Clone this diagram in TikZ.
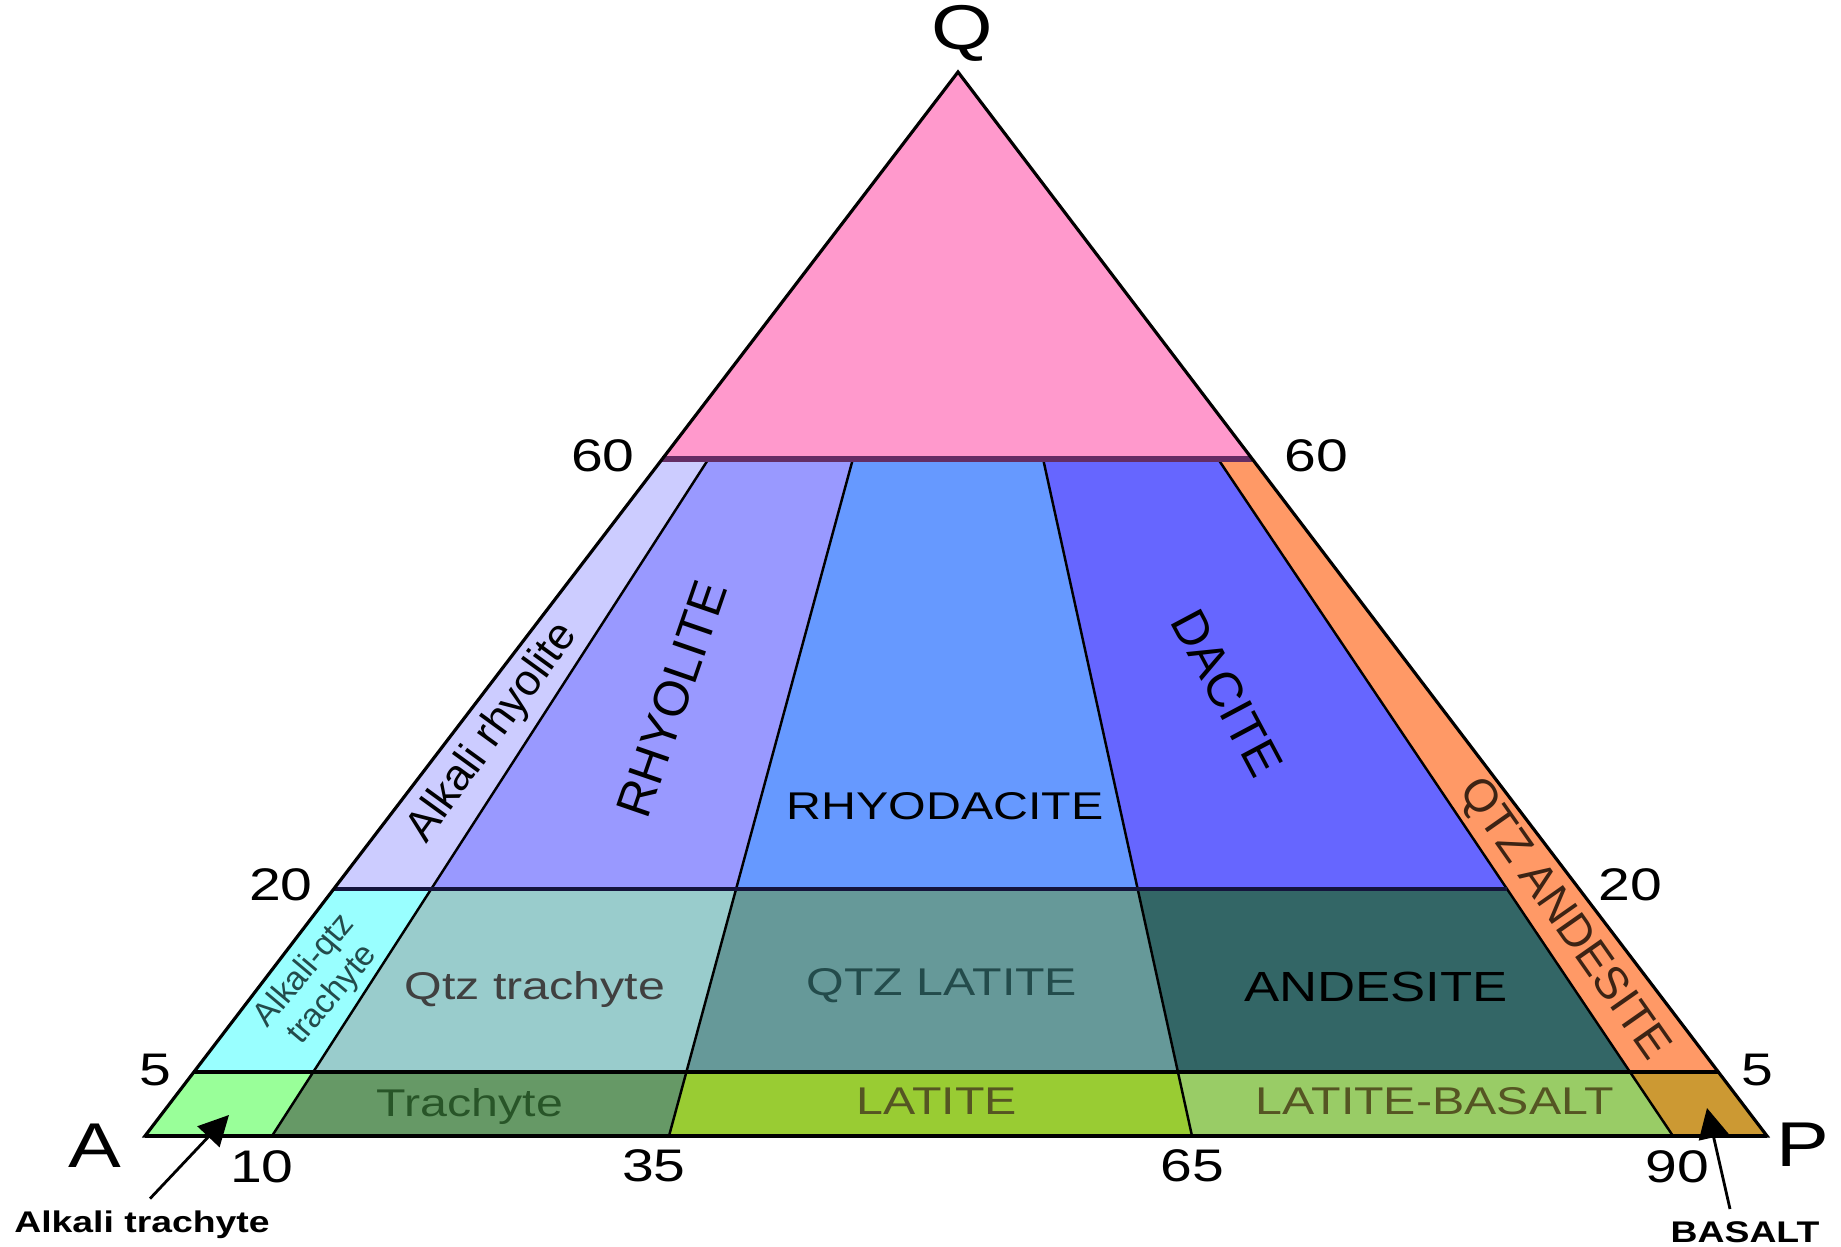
\documentclass[tikz,border=0pt]{standalone}
\usepackage{fontspec}
\setmainfont{Liberation Sans}
\usetikzlibrary{positioning,calc,arrows.meta}

% field colours
\definecolor{qzpink}{RGB}{255,153,204}
\definecolor{alkrhy}{RGB}{204,204,255}
\definecolor{rhyol}{RGB}{153,153,255}
\definecolor{rhyodac}{RGB}{102,153,255}
\definecolor{dacit}{RGB}{102,102,255}
\definecolor{qzandes}{RGB}{255,153,102}
\definecolor{alkqtz}{RGB}{153,255,255}
\definecolor{qztrach}{RGB}{153,204,204}
\definecolor{qzlat}{RGB}{102,153,153}
\definecolor{andes}{RGB}{51,102,102}
\definecolor{alktrach}{RGB}{153,255,153}
\definecolor{trach}{RGB}{102,153,102}
\definecolor{latit}{RGB}{153,204,51}
\definecolor{latbas}{RGB}{153,204,102}
\definecolor{basal}{RGB}{204,153,51}
\definecolor{lineSixty}{RGB}{100,45,100}
\definecolor{lineTwenty}{RGB}{20,20,60}
\definecolor{txtTeal}{RGB}{35,75,75}
\definecolor{txtGreen}{RGB}{40,85,40}
\definecolor{txtOlive}{RGB}{85,85,35}
\definecolor{txtBrown}{RGB}{60,35,20}

\newcommand{\widetxt}[1]{\scalebox{1.25}[1]{#1}}

\tikzset{
  rim/.style={line width=0.9pt},
  divider/.style={line width=0.7pt},
  apexlbl/.style={font=\fontsize{18}{20}\selectfont},
  ticklbl/.style={font=\fontsize{13}{15}\selectfont},
  fieldlbl/.style={font=\fontsize{11}{13}\selectfont},
  sidelbl/.style={font=\fontsize{13}{15}\selectfont},
  notelbl/.style={font=\bfseries\fontsize{8.5}{10}\selectfont},
  pointer/.style={line width=0.8pt, -{Triangle[length=3mm,width=3mm]}}
}

\begin{document}
\begin{tikzpicture}
    \useasboundingbox (0,0) rectangle (18.41,12.47);

    % Apex, corners and base points
    \coordinate (Q) at (9.58,11.75);
    \coordinate (A) at (1.45,1.11);
    \coordinate (P) at (17.67,1.11);
    \coordinate (b10) at (2.72,1.11);
    \coordinate (b35) at (6.69,1.11);
    \coordinate (b65) at (11.92,1.11);
    \coordinate (b90) at (16.73,1.11);

    % Rays from Q cut at 60, 20 and 5
    \foreach \r in {A,b10,b35,b65,b90,P}{
        \coordinate (\r-60) at ($(Q)!0.3637!(\r)$);
        \coordinate (\r-20) at ($(Q)!0.7679!(\r)$);
        \coordinate (\r-5) at ($(Q)!0.9398!(\r)$);
        \coordinate (\r-0) at (\r);
    }

    % Fields
    \fill[qzpink] (Q) -- (A-60) -- (P-60) -- cycle;
    \foreach \u/\v/\hi/\lo/\col in {A/b10/60/20/alkrhy, b10/b35/60/20/rhyol,
        b35/b65/60/20/rhyodac, b65/b90/60/20/dacit, b90/P/60/5/qzandes,
        A/b10/20/5/alkqtz, b10/b35/20/5/qztrach, b35/b65/20/5/qzlat,
        b65/b90/20/5/andes, A/b10/5/0/alktrach, b10/b35/5/0/trach,
        b35/b65/5/0/latit, b65/b90/5/0/latbas, b90/P/5/0/basal}
        \fill[\col] (\u-\hi) -- (\v-\hi) -- (\v-\lo) -- (\u-\lo) -- cycle;

    % Boundaries
    \foreach \r in {b10,b35,b65,b90}
        \draw[divider] (\r-60) -- (\r);
    \draw[lineSixty, line width=1.8pt] (A-60) -- (P-60);
    \draw[lineTwenty, line width=1.1pt] (A-20) -- (b90-20);
    \draw[rim] (A-5) -- (P-5);
    \draw[rim, line width=1.1pt] (A) -- (P);
    \draw[rim] (Q) -- (A) -- (P) -- cycle;

    % Corners
    \node[apexlbl] (qlbl) at (9.62,12.14) {\widetxt{Q}};
    \node[apexlbl] (albl) at (0.95,1.01) {\widetxt{A}};
    \node[apexlbl] (plbl) at (18.03,1.02) {\widetxt{P}};

    % Scale values
    \node[ticklbl] (l60) at (6.03,7.91) {\widetxt{60}};
    \node[ticklbl] (r60) at (13.16,7.91) {\widetxt{60}};
    \node[ticklbl] (l20) at (2.81,3.62) {\widetxt{20}};
    \node[ticklbl] (r20) at (16.30,3.62) {\widetxt{20}};
    \node[ticklbl] (l5) at (1.55,1.77) {\widetxt{5}};
    \node[ticklbl] (r5) at (17.57,1.77) {\widetxt{5}};
    \node[ticklbl] (t10) at (2.62,0.80) {\widetxt{10}};
    \node[ticklbl] (t35) at (6.54,0.81) {\widetxt{35}};
    \node[ticklbl] (t65) at (11.92,0.81) {\widetxt{65}};
    \node[ticklbl] (t90) at (16.77,0.80) {\widetxt{90}};

    % Field names
    \node[sidelbl, rotate=54, font=\fontsize{12.5}{14}\selectfont] (alkrhylbl) at (4.93,5.14) {Alkali rhyolite};
    \node[sidelbl, rotate=71, font=\fontsize{14}{16}\selectfont] (rhylbl) at (6.72,5.48) {RHYOLITE};
    \node[fieldlbl] (rhdlbl) at (9.45,4.41) {\widetxt{RHYODACITE}};
    \node[sidelbl, rotate=-62, font=\fontsize{14}{16}\selectfont] (daclbl) at (12.27,5.54) {DACITE};
    \node[sidelbl, rotate=-55, text=txtBrown] (qzandlbl) at (15.63,3.27) {QTZ ANDESITE};
    \node[rotate=50, align=center, text=txtTeal, font=\fontsize{9.5}{10.5}\selectfont] (alkqtzlbl) at (3.19,2.64) {Alkali-qtz\\trachyte};
    \node[fieldlbl, anchor=base, text=black!75] (qztrlbl) at (5.35,2.47) {\widetxt{Qtz trachyte}};
    \node[fieldlbl, text=txtTeal] (qzlatlbl) at (9.42,2.61) {\widetxt{QTZ LATITE}};
    \node[fieldlbl, font=\fontsize{12}{14}\selectfont] (andlbl) at (13.76,2.60) {\widetxt{ANDESITE}};
    \node[fieldlbl, anchor=base, text=txtGreen] (trlbl) at (4.70,1.30) {\widetxt{Trachyte}};
    \node[fieldlbl, text=txtOlive] (latlbl) at (9.37,1.46) {\widetxt{LATITE}};
    \node[fieldlbl, text=txtOlive] (latbaslbl) at (14.35,1.46) {\widetxt{LATITE-BASALT}};

    % Pointers to the small fields
    \node[notelbl] (alktr) at (1.42,0.22) {\widetxt{Alkali trachyte}};
    \node[notelbl] (basalt) at (17.45,0.15) {\widetxt{BASALT}};
    \coordinate (alktrtip) at (2.29,1.32);
    \coordinate (basalttip) at (17.07,1.39);
    \draw[pointer] ([xshift=0.08cm]alktr.north) -- (alktrtip);
    \draw[pointer] ([xshift=-0.15cm]basalt.north) -- (basalttip);
\end{tikzpicture}
\end{document}
